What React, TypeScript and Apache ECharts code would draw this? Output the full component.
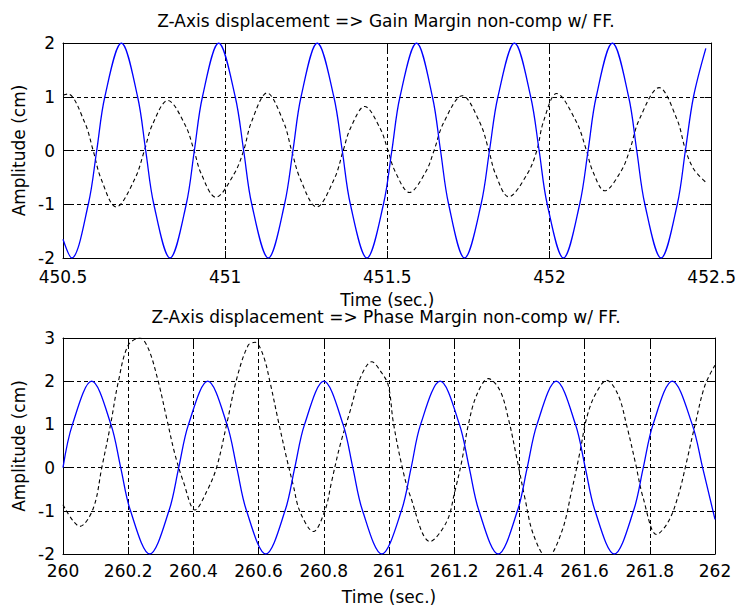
import React, { useEffect, useRef } from "react";
import * as echarts from "echarts";

// ---- Top plot: Gain Margin non-comp w/ FF. ----
const gainTitle = "Z-Axis displacement => Gain Margin non-comp w/ FF.";
const gainXTicks = { min: 450.5, max: 452.5, interval: 0.5 };
const gainYTicks = { min: -2, max: 2, interval: 1 };

const gainBlueT = [
  450.5, 450.527, 450.578, 450.604, 450.629, 450.68, 450.73, 450.755, 450.78,
  450.83, 450.88, 450.905, 450.93, 450.98, 451.031, 451.057, 451.082,
  451.133, 451.183, 451.209, 451.234, 451.284, 451.335, 451.361, 451.386,
  451.437, 451.488, 451.514, 451.539, 451.59, 451.639, 451.664, 451.689,
  451.738, 451.789, 451.815, 451.841, 451.892, 451.942, 451.968, 451.993,
  452.043, 452.093, 452.119, 452.144, 452.194, 452.244, 452.269, 452.294,
  452.344, 452.394, 452.419, 452.444, 452.482,
];
const gainBlueY = [
  -1.65, -2, -1, 0, 1, 2, 1, 0, -1,
  -2, -1, 0, 1, 2, 1, 0, -1,
  -2, -1, 0, 1, 2, 1, 0, -1,
  -2, -1, 0, 1, 2, 1, 0, -1,
  -2, -1, 0, 1, 2, 1, 0, -1,
  -2, -1, 0, 1, 2, 1, 0, -1,
  -2, -1, 0, 1, 1.9,
];

const gainBlackT = [
  450.5, 450.515, 450.567, 450.593, 450.617, 450.664, 450.722, 450.751,
  450.775, 450.823, 450.877, 450.904, 450.926, 450.971, 451.028, 451.057,
  451.081, 451.129, 451.18, 451.205, 451.231, 451.282, 451.337, 451.364,
  451.386, 451.43, 451.478, 451.502, 451.524, 451.568, 451.619, 451.644,
  451.673, 451.731, 451.786, 451.813, 451.833, 451.874, 451.932, 451.961,
  451.981, 452.022, 452.083, 452.114, 452.133, 452.17, 452.221, 452.247,
  452.277, 452.338, 452.393, 452.42, 452.445, 452.482,
];
const gainBlackY = [
  1.03, 1.05, 0.52, 0, -0.52, -1.05, -0.52, 0,
  0.47, 0.93, 0.47, 0, -0.43, -0.87, -0.43, 0,
  0.53, 1.07, 0.53, 0, -0.52, -1.05, -0.52, 0,
  0.41, 0.82, 0.41, 0, -0.39, -0.78, -0.39, 0,
  0.51, 1.02, 0.51, 0, -0.43, -0.86, -0.43, 0,
  0.53, 1.06, 0.53, 0, -0.38, -0.75, -0.38, 0,
  0.58, 1.17, 0.58, 0, -0.35, -0.59,
];

// ---- Bottom plot: Phase Margin non-comp w/ FF. ----
const phaseTitle = "Z-Axis displacement => Phase Margin non-comp w/ FF.";
const phaseXTicks = { min: 260, max: 262, interval: 0.2 };
const phaseYTicks = { min: -2, max: 3, interval: 1 };

const phaseBlueT = [
  260.0, 260.029, 260.088, 260.147, 260.177, 260.207, 260.266, 260.325,
  260.355, 260.385, 260.444, 260.503, 260.533, 260.563, 260.622, 260.681,
  260.711, 260.741, 260.8, 260.859, 260.889, 260.919, 260.978, 261.038,
  261.068, 261.097, 261.157, 261.216, 261.246, 261.276, 261.335, 261.394,
  261.424, 261.454, 261.513, 261.572, 261.602, 261.632, 261.691, 261.75,
  261.78, 261.81, 261.869, 261.93, 261.962, 262.0,
];
const phaseBlueY = [
  0, 1, 2, 1, 0, -1, -2, -1,
  0, 1, 2, 1, 0, -1, -2, -1,
  0, 1, 2, 1, 0, -1, -2, -1,
  0, 1, 2, 1, 0, -1, -2, -1,
  0, 1, 2, 1, 0, -1, -2, -1,
  0, 1, 2, 1, 0, -1.2,
];

const phaseBlackT = [
  260.0, 260.052, 260.093, 260.119, 260.146, 260.17, 260.2, 260.236,
  260.262, 260.292, 260.318, 260.344, 260.369, 260.405, 260.441, 260.471,
  260.502, 260.533, 260.568, 260.589, 260.614, 260.635, 260.661, 260.686,
  260.706, 260.727, 260.768, 260.804, 260.824, 260.85, 260.88, 260.911,
  260.947, 260.977, 260.998, 261.013, 261.039, 261.064, 261.126, 261.177,
  261.202, 261.223, 261.243, 261.269, 261.305, 261.34, 261.366, 261.392,
  261.417, 261.443, 261.485, 261.53, 261.56, 261.586, 261.606, 261.632,
  261.668, 261.703, 261.729, 261.755, 261.78, 261.821, 261.857, 261.888,
  261.913, 261.939, 261.969, 262.0,
];
const phaseBlackY = [
  -0.86, -1.36, -0.94, 0, 1, 2, 2.83, 3.0,
  2.75, 2, 1.14, 0.29, -0.32, -0.98, -0.55, 0,
  1, 2.06, 2.83, 2.9, 2.6, 1.98, 1.06, 0.22,
  -0.4, -1.02, -1.48, -0.98, -0.32, 0.52, 1.29, 2.06,
  2.45, 2.2, 1.9, 1.06, 0.06, -0.63, -1.71, -1.25,
  -0.55, 0.14, 0.98, 1.68, 2.06, 1.79, 1.14, 0.22,
  -0.71, -1.55, -2.09, -1.48, -0.55, 0.37, 1.14, 1.68,
  2.02, 1.68, 0.98, 0.14, -0.71, -1.55, -1.25, -0.63,
  0.14, 1, 1.9, 2.37,
];

const xName = "Time (sec.)";
const yName = "Amplitude (cm)";

const FONT = "DejaVu Sans";
const FS = 17;

const zip = (t: number[], y: number[]) => t.map((v, i) => [v, y[i]]);
const fmt = (v: number) => String(Math.round(v * 10) / 10);

const black = "#000000";
const gridDash = [4, 3];

function mainX(gridIndex: number, ticks: any, nameGap: number, margin: number) {
  return {
    type: "value",
    gridIndex,
    position: "bottom",
    min: ticks.min,
    max: ticks.max,
    interval: ticks.interval,
    axisLine: { show: true, onZero: false, lineStyle: { color: black, width: 1 } },
    axisTick: { show: true, inside: true, length: 7, lineStyle: { color: black } },
    axisLabel: { margin, color: black, fontSize: FS, fontFamily: FONT, formatter: fmt, showMinLabel: true, showMaxLabel: true },
    splitLine: { show: true, lineStyle: { color: black, width: 1, type: gridDash } },
    name: xName,
    nameLocation: "middle",
    nameGap,
    nameTextStyle: { color: black, fontSize: FS, fontFamily: FONT },
  };
}
function topX(gridIndex: number, ticks: any) {
  return {
    type: "value",
    gridIndex,
    position: "top",
    min: ticks.min,
    max: ticks.max,
    interval: ticks.interval,
    axisLine: { show: true, onZero: false, lineStyle: { color: black, width: 1 } },
    axisTick: { show: true, inside: true, length: 7, lineStyle: { color: black } },
    axisLabel: { show: false },
    splitLine: { show: false },
  };
}
function mainY(gridIndex: number, ticks: any) {
  return {
    type: "value",
    gridIndex,
    position: "left",
    min: ticks.min,
    max: ticks.max,
    interval: ticks.interval,
    axisLine: { show: true, onZero: false, lineStyle: { color: black, width: 1 } },
    axisTick: { show: true, inside: true, length: 7, lineStyle: { color: black } },
    axisLabel: { margin: 8, color: black, fontSize: FS, fontFamily: FONT, formatter: fmt },
    splitLine: { show: true, lineStyle: { color: black, width: 1, type: gridDash } },
    name: yName,
    nameLocation: "middle",
    nameGap: 31,
    nameTextStyle: { color: black, fontSize: FS, fontFamily: FONT },
  };
}
function rightY(gridIndex: number, ticks: any) {
  return {
    type: "value",
    gridIndex,
    position: "right",
    min: ticks.min,
    max: ticks.max,
    interval: ticks.interval,
    axisLine: { show: true, onZero: false, lineStyle: { color: black, width: 1 } },
    axisTick: { show: true, inside: true, length: 7, lineStyle: { color: black } },
    axisLabel: { show: false },
    splitLine: { show: false },
  };
}

function lineSeries(axisIndex: number, data: number[][], color: string, dashed: boolean) {
  return {
    type: "line",
    xAxisIndex: axisIndex,
    yAxisIndex: axisIndex,
    data,
    showSymbol: false,
    symbol: "none",
    smooth: 0.35,
    clip: true,
    lineStyle: dashed
      ? { color, width: 1.1, type: [4, 3] }
      : { color, width: 1.3, type: "solid" },
    z: dashed ? 2 : 3,
  };
}

export default function App() {
  const ref = useRef<HTMLDivElement>(null);
  useEffect(() => {
    if (!ref.current) return;
    const chart = echarts.init(ref.current, null, { renderer: "svg" });
    const titleStyle = { fontSize: FS, fontWeight: "normal", color: black, fontFamily: FONT };
    chart.setOption({
      animation: false,
      backgroundColor: "#ffffff",
      textStyle: { fontFamily: FONT },
      title: [
        { text: gainTitle, left: 386, top: 12, textAlign: "center", padding: 0, textStyle: titleStyle },
        { text: phaseTitle, left: 386, top: 308, textAlign: "center", padding: 0, textStyle: titleStyle },
      ],
      grid: [
        { left: 63, top: 43, width: 652, height: 215, containLabel: false },
        { left: 63, top: 338, width: 652, height: 216, containLabel: false },
      ],
      xAxis: [
        mainX(0, gainXTicks, 33, 10),
        topX(0, gainXTicks),
        mainX(1, phaseXTicks, 34, 8),
        topX(1, phaseXTicks),
      ],
      yAxis: [
        mainY(0, gainYTicks),
        rightY(0, gainYTicks),
        mainY(1, phaseYTicks),
        rightY(1, phaseYTicks),
      ],
      series: [
        lineSeries(0, zip(gainBlackT, gainBlackY), black, true),
        lineSeries(0, zip(gainBlueT, gainBlueY), "#0000ff", false),
        lineSeries(2, zip(phaseBlackT, phaseBlackY), black, true),
        lineSeries(2, zip(phaseBlueT, phaseBlueY), "#0000ff", false),
      ],
    });
    return () => chart.dispose();
  }, []);
  return (
    <div
      ref={ref}
      style={{ position: "fixed", left: 0, top: 0, width: 739, height: 609, background: "#fff" }}
    />
  );
}
